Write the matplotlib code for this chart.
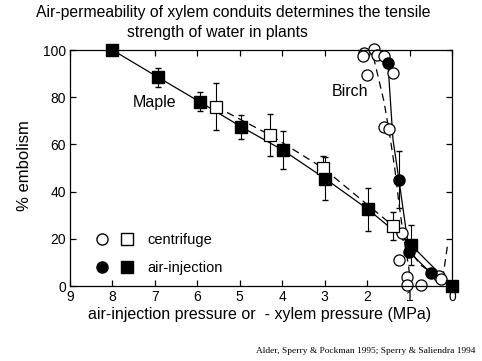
import matplotlib
matplotlib.use("Agg")
import matplotlib.pyplot as plt
from matplotlib.lines import Line2D
from matplotlib.legend_handler import HandlerTuple

plt.rcParams["font.family"] = ["Liberation Sans", "DejaVu Sans"]

# maple, air-injection (filled squares, solid line)
maple_air_x = [8.0, 6.93, 5.94, 4.97, 3.98, 2.99, 1.98, 0.97, 0.0]
maple_air_y = [100, 88.5, 78, 67.5, 57.5, 45.5, 32.5, 17.5, 0]
maple_air_err = [0, 4, 4, 5, 8, 9, 9, 8.5, 0]

# maple, centrifuge (open squares, dashed line)
maple_cf_x = [5.56, 4.29, 3.04, 1.39]
maple_cf_y = [76, 64, 50, 25.5]
maple_cf_err = [10, 9, 5, 6]
maple_cf_line_x = [5.56, 4.29, 3.04, 1.39, 0.75, 0.3]
maple_cf_line_y = [76, 64, 50, 25.5, 9, 3.5]

# birch, centrifuge (open circles, dashed line)
birch_cf_x = [2.07, 2.10, 1.84, 1.77, 1.60, 2.00, 1.39, 1.60, 1.48,
              1.18, 1.25, 1.06, 1.06, 0.73, 0.31, 0.26]
birch_cf_y = [98.7, 97.5, 100.5, 97.9, 97.5, 89.4, 90.3, 67.4, 66.5,
              22.5, 11, 3.8, 0.4, 0.4, 4.2, 3]
birch_cf_line_x = [1.85, 1.60, 1.45, 1.35, 1.25, 1.15, 1.02, 0.97]
birch_cf_line_y = [97, 78, 62, 50, 35, 22, 8, 0]
tail_x = [0.22, 0.10]
tail_y = [3, 18]

# birch, air-injection (filled circles, solid line)
birch_air_x = [1.51, 1.25, 1.01, 0.5]
birch_air_y = [94.5, 45, 14.5, 5.5]
birch_air_err = [0, 12, 0, 0]
birch_air_line_x = [1.51, 1.39, 1.25, 1.01, 0.5, 0.0]
birch_air_line_y = [94.5, 62, 45, 14.5, 5.5, 0]

x_ticks = list(range(10))
y_ticks = [0, 20, 40, 60, 80, 100]

W, H = 482, 361
fig = plt.figure(figsize=(W / 100, H / 100), dpi=100)
ax = fig.add_axes([70 / W, 1 - 286 / H, 382 / W, 236 / H])

lw = 0.9
ms = 8

# lines
ax.plot(maple_air_x, maple_air_y, color="black", lw=lw)
ax.plot(maple_cf_line_x, maple_cf_line_y, color="black", lw=lw,
        dashes=(6, 4))
ax.plot(birch_air_line_x, birch_air_line_y, color="black", lw=lw)
ax.plot(birch_cf_line_x, birch_cf_line_y, color="black", lw=lw,
        dashes=(6, 4))
ax.plot(tail_x, tail_y, color="black", lw=lw, dashes=(6, 4))

# error bars
ax.errorbar(maple_cf_x, maple_cf_y, yerr=maple_cf_err, fmt="none",
            ecolor="black", elinewidth=0.8, capsize=2)
ax.errorbar(maple_air_x, maple_air_y, yerr=maple_air_err, fmt="none",
            ecolor="black", elinewidth=0.8, capsize=2)
ax.errorbar(birch_air_x, birch_air_y, yerr=birch_air_err, fmt="none",
            ecolor="black", elinewidth=0.8, capsize=2)

# markers
ax.plot(birch_cf_x, birch_cf_y, "o", ms=ms, mfc="white", mec="black",
        mew=0.9, clip_on=False)
ax.plot(maple_cf_x, maple_cf_y, "s", ms=ms, mfc="white", mec="black",
        mew=0.9, clip_on=False)
ax.plot(birch_air_x, birch_air_y, "o", ms=ms, color="black", clip_on=False)
ax.plot(maple_air_x, maple_air_y, "s", ms=ms, color="black", clip_on=False,
        zorder=5)

ax.set_xlim(9, 0)
ax.set_ylim(0, 100)
ax.set_xticks(x_ticks)
ax.set_yticks(y_ticks)
ax.tick_params(direction="in", top=True, right=True, length=4,
               width=0.9, labelsize=10, pad=3)
for s in ax.spines.values():
    s.set_linewidth(0.9)

fig.text(260 / W, 1 - 315 / H,
         "air-injection pressure or  - xylem pressure (MPa)",
         ha="center", va="center", fontsize=11.5)
fig.text(25 / W, 1 - 166 / H, "% embolism", rotation=90,
         ha="center", va="center", fontsize=12)

fig.text(133 / W, 1 - 103 / H, "Maple", fontsize=11.5, va="center")
fig.text(332 / W, 1 - 92 / H, "Birch", fontsize=11.5, va="center")

# legend
o_open = Line2D([], [], ls="none", marker="o", ms=ms, mfc="white", mec="black")
s_open = Line2D([], [], ls="none", marker="s", ms=ms, mfc="white", mec="black")
o_full = Line2D([], [], ls="none", marker="o", ms=ms, color="black")
s_full = Line2D([], [], ls="none", marker="s", ms=ms, color="black")
ax.legend([(o_open, s_open), (o_full, s_full)], ["centrifuge", "air-injection"],
          handler_map={tuple: HandlerTuple(ndivide=None, pad=0.94)},
          loc="center left", bbox_to_anchor=(0.069, 0.1356),
          frameon=False, fontsize=10.5, handlelength=2.5,
          handletextpad=0.97, borderpad=0, borderaxespad=0,
          labelspacing=1.0)

fig.text(233 / W, 1 - 13 / H,
         "Air-permeability of xylem conduits determines the tensile",
         ha="center", va="center", fontsize=11.3)
fig.text(217 / W, 1 - 32 / H, "strength of water in plants",
         ha="center", va="center", fontsize=11.3)
fig.text(475 / W, 1 - 351 / H,
         "Alder, Sperry & Pockman 1995; Sperry & Saliendra 1994",
         ha="right", va="center", fontsize=6.75,
         family=["Liberation Serif", "DejaVu Serif"])

fig.savefig("out.png", dpi=100)
